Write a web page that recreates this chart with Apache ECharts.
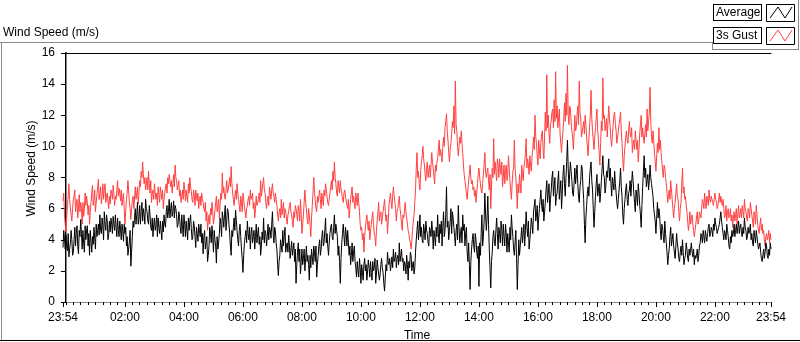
<!DOCTYPE html>
<html lang="en">

<head>
    <meta charset="UTF-8">
    <title>Wind Speed (m/s)</title>
    <script src="https://cdn.jsdelivr.net/npm/echarts@6/dist/echarts.min.js"></script>
    <style>
        html, body {
            margin: 0;
            padding: 0;
            background: #fff;
        }

        #main {
            width: 800px;
            height: 342px;
        }
    </style>
</head>

<body>
    <div id="main"></div>
    <script>
        // One reading every 1.5 minutes, starting 23:54 the day before
        const startMinute = -6;
        const stepMinutes = 1.5;

        const averageSpeed = [
            3.5, 4.6, 4.1, 3.4, 4.3, 3.6, 3.3, 4.4, 2.9, 3.4, 3.8, 4.6, 4.0, 3.0, 3.2, 4.0, 4.8, 3.6, 4.4, 4.9, 3.6, 3.1, 4.6, 4.2, 5.3, 4.4, 3.4, 4.6, 3.8, 3.2, 4.9, 4.0,
            4.6, 4.9, 3.6, 4.4, 3.0, 4.6, 3.9, 3.2, 4.2, 3.7, 4.8, 4.1, 3.4, 5.0, 4.2, 4.6, 5.0, 4.3, 5.6, 4.6, 4.4, 5.4, 4.9, 4.0, 5.8, 5.0, 4.6, 5.6, 5.2, 4.0, 4.4, 5.2,
            4.5, 5.4, 5.0, 4.4, 5.5, 5.0, 4.6, 5.6, 4.8, 4.2, 5.4, 4.6, 4.2, 5.2, 4.7, 4.0, 5.0, 4.6, 3.9, 5.0, 4.4, 4.8, 3.6, 4.2, 3.0, 3.4, 3.9, 4.6, 2.3, 3.2, 4.2, 5.2,
            4.8, 5.4, 6.0, 5.0, 5.6, 6.4, 5.0, 5.4, 6.2, 5.0, 5.8, 6.4, 5.2, 6.0, 5.6, 5.0, 6.6, 6.0, 5.8, 5.2, 5.0, 6.2, 5.6, 4.8, 4.6, 5.4, 4.2, 5.0, 5.4, 4.6, 4.9, 5.6,
            4.2, 5.4, 4.8, 4.4, 5.2, 4.6, 4.0, 5.2, 4.5, 5.6, 5.0, 4.8, 5.8, 6.2, 5.4, 5.8, 6.6, 5.4, 6.0, 6.4, 5.5, 5.8, 6.5, 5.4, 6.2, 6.0, 5.6, 4.8, 5.0, 5.8, 5.5, 4.8,
            4.4, 5.6, 4.9, 4.2, 5.6, 5.0, 4.2, 5.2, 4.6, 4.0, 5.4, 4.6, 5.2, 5.6, 4.7, 4.0, 4.2, 5.2, 4.9, 4.2, 3.5, 4.8, 4.4, 3.9, 5.0, 4.6, 4.2, 5.0, 3.8, 4.4, 3.1, 4.2,
            4.6, 3.4, 3.8, 4.2, 2.6, 3.0, 3.6, 4.8, 4.4, 3.8, 4.9, 4.2, 3.2, 4.6, 4.0, 3.6, 2.5, 4.2, 3.4, 3.8, 4.4, 5.4, 5.0, 4.2, 5.8, 5.4, 4.8, 5.6, 6.2, 4.6, 5.2, 6.0,
            5.8, 5.0, 4.4, 3.6, 3.0, 4.6, 4.2, 4.8, 5.4, 4.6, 5.9, 5.2, 4.6, 4.0, 3.6, 4.6, 5.0, 4.2, 3.4, 2.8, 1.9, 3.0, 3.8, 4.2, 4.6, 3.8, 5.2, 4.4, 4.0, 4.8, 3.4, 4.4,
            4.8, 3.8, 4.2, 4.6, 3.4, 4.2, 5.0, 3.8, 4.4, 4.8, 3.7, 4.2, 3.0, 3.6, 4.5, 4.0, 5.4, 3.8, 4.6, 4.4, 3.6, 4.2, 5.0, 4.0, 4.8, 4.6, 4.1, 5.0, 5.8, 4.4, 3.8, 4.8,
            4.6, 3.8, 3.4, 2.4, 1.7, 2.6, 3.0, 4.0, 3.6, 3.2, 4.6, 3.6, 4.2, 4.8, 3.2, 3.6, 3.8, 3.2, 4.3, 3.6, 2.8, 3.4, 3.9, 3.0, 3.4, 3.8, 2.6, 3.4, 1.2, 2.4, 3.2, 3.8,
            2.6, 3.4, 1.8, 2.6, 3.4, 2.4, 2.8, 3.4, 2.0, 2.8, 3.6, 2.6, 3.0, 2.4, 1.4, 3.0, 2.2, 3.4, 2.9, 2.4, 3.6, 3.2, 2.6, 3.6, 1.6, 2.4, 3.0, 3.6, 4.0, 3.0, 3.4, 4.2,
            4.6, 3.6, 3.8, 4.6, 5.4, 3.8, 4.4, 3.6, 3.0, 3.8, 4.4, 4.8, 5.0, 4.2, 4.0, 4.8, 5.6, 4.4, 5.0, 4.6, 4.2, 3.0, 3.6, 2.6, 1.2, 2.8, 3.8, 4.4, 5.0, 4.2, 3.6, 4.8,
            4.4, 3.6, 4.6, 3.8, 3.0, 3.6, 2.4, 3.0, 3.8, 2.6, 3.2, 3.6, 2.6, 2.2, 1.6, 2.6, 2.0, 1.6, 2.8, 2.2, 1.2, 2.4, 1.9, 1.4, 2.4, 2.8, 2.0, 2.4, 1.4, 2.0, 2.7, 2.2,
            1.6, 2.6, 1.9, 1.4, 2.6, 2.0, 2.2, 2.8, 1.2, 1.8, 2.7, 2.2, 2.2, 1.4, 1.8, 2.4, 2.8, 2.2, 1.9, 1.2, 0.7, 1.6, 2.4, 2.0, 3.2, 2.6, 2.4, 2.8, 2.0, 2.4, 2.9, 2.2,
            3.4, 2.6, 2.8, 3.2, 2.2, 2.8, 3.0, 2.4, 3.8, 2.6, 3.0, 3.4, 2.6, 2.8, 2.0, 2.6, 2.4, 1.8, 3.0, 2.4, 1.4, 2.6, 2.2, 3.2, 3.0, 2.0, 2.4, 2.6, 1.8, 2.2, 3.2, 4.0,
            4.6, 5.2, 4.0, 4.6, 5.6, 4.2, 4.8, 4.0, 3.8, 5.0, 4.6, 4.0, 5.2, 4.6, 4.4, 3.8, 3.6, 4.8, 4.6, 4.2, 5.2, 4.6, 3.4, 4.6, 4.2, 3.6, 4.8, 4.2, 5.6, 4.4, 3.8, 5.0,
            4.4, 5.2, 3.6, 4.8, 5.8, 4.2, 4.6, 5.6, 7.4, 4.8, 5.2, 4.0, 4.6, 5.2, 6.0, 4.4, 5.8, 5.4, 4.8, 4.2, 3.6, 4.6, 5.0, 4.0, 6.2, 4.8, 3.8, 4.4, 4.8, 3.8, 5.6, 4.6,
            5.0, 3.6, 4.4, 4.8, 3.2, 2.6, 3.8, 2.4, 0.8, 2.6, 3.4, 4.0, 4.4, 3.6, 3.2, 4.4, 4.0, 3.2, 2.8, 3.6, 1.0, 3.8, 3.0, 4.4, 5.6, 3.6, 4.2, 5.2, 7.0, 5.6, 4.6, 5.4,
            6.8, 5.0, 3.4, 2.2, 0.9, 2.6, 3.2, 4.2, 4.6, 3.8, 3.6, 4.6, 5.4, 4.4, 3.4, 4.8, 4.4, 3.8, 5.2, 4.6, 3.6, 5.0, 4.2, 3.6, 5.0, 4.4, 3.2, 4.4, 3.8, 3.2, 4.8, 4.0,
            5.6, 4.8, 4.2, 3.4, 3.0, 3.8, 4.6, 2.8, 0.8, 2.4, 4.0, 3.0, 3.6, 4.2, 4.8, 3.8, 4.4, 5.0, 3.6, 4.6, 5.8, 4.8, 4.2, 5.2, 3.4, 4.0, 4.6, 5.4, 5.0, 4.4, 5.8, 6.2,
            6.6, 5.2, 5.6, 6.2, 4.6, 5.4, 6.0, 6.6, 7.2, 6.2, 5.8, 6.6, 5.2, 5.8, 6.4, 7.2, 7.8, 6.4, 7.0, 7.6, 5.8, 6.6, 7.2, 8.0, 8.4, 6.8, 7.4, 8.0, 6.2, 6.8, 7.0, 7.8,
            8.4, 6.6, 7.2, 7.8, 6.0, 7.0, 8.2, 8.8, 7.6, 6.8, 8.0, 9.0, 10.4, 8.6, 7.4, 8.2, 9.0, 8.4, 7.8, 7.0, 6.8, 7.6, 8.6, 7.6, 8.2, 8.8, 7.6, 6.8, 6.4, 7.4, 7.8, 8.8,
            8.6, 7.4, 6.6, 5.0, 3.8, 5.4, 6.2, 7.0, 7.4, 6.8, 8.0, 8.6, 9.0, 7.8, 7.2, 6.0, 4.8, 5.8, 6.8, 7.6, 8.2, 6.8, 7.2, 7.6, 6.4, 7.0, 7.8, 8.6, 9.4, 8.2, 8.0, 7.0,
            7.4, 8.4, 8.0, 8.6, 9.2, 7.8, 8.6, 7.6, 6.8, 8.0, 7.6, 7.2, 8.4, 7.6, 7.0, 6.4, 6.0, 6.6, 7.2, 7.8, 8.6, 7.4, 6.8, 5.6, 5.0, 6.0, 6.6, 7.2, 7.6, 6.6, 6.2, 7.0,
            7.2, 7.8, 6.8, 7.6, 8.4, 7.8, 7.0, 6.4, 5.8, 7.2, 6.8, 6.2, 7.6, 7.0, 6.2, 5.6, 4.8, 6.2, 7.4, 8.4, 9.4, 8.0, 8.6, 7.4, 7.8, 8.2, 7.2, 7.8, 8.8, 8.0, 7.6, 7.2,
            6.8, 6.0, 5.6, 5.2, 4.4, 5.4, 6.4, 5.4, 6.0, 5.6, 4.6, 4.0, 5.0, 4.8, 4.2, 3.8, 5.2, 4.4, 3.8, 3.2, 2.4, 3.0, 3.4, 4.2, 4.8, 3.6, 4.0, 4.4, 3.6, 3.2, 2.8, 3.6,
            4.4, 3.8, 3.4, 2.8, 2.6, 3.2, 3.6, 3.0, 4.0, 3.2, 2.4, 2.8, 3.0, 3.8, 3.4, 2.8, 2.6, 3.4, 3.0, 3.4, 3.8, 3.2, 2.9, 3.4, 2.4, 3.0, 2.8, 3.0, 3.4, 2.6, 3.0, 3.6,
            3.8, 4.4, 4.2, 3.8, 4.6, 4.2, 3.8, 4.6, 4.2, 3.9, 4.4, 4.8, 5.0, 4.2, 4.4, 4.8, 4.6, 4.2, 5.0, 4.6, 5.4, 5.0, 4.8, 4.4, 4.3, 4.8, 5.0, 5.4, 5.8, 5.2, 4.8, 4.4,
            4.0, 4.6, 4.4, 4.0, 5.0, 4.6, 4.2, 3.6, 3.4, 4.2, 3.8, 4.6, 4.2, 4.4, 5.0, 4.2, 4.6, 5.0, 4.4, 4.8, 5.2, 4.4, 4.8, 5.0, 4.4, 4.2, 4.8, 4.4, 5.4, 4.8, 4.6, 4.0,
            4.2, 4.8, 4.4, 4.6, 5.0, 4.0, 4.4, 3.8, 3.6, 4.6, 4.2, 3.8, 4.6, 4.2, 3.8, 3.4, 3.4, 3.8, 3.2, 2.8, 2.6, 3.0, 3.4, 2.8, 3.2, 3.8, 3.6, 3.0, 2.8, 3.4, 3.0, 3.8,
            3.4
        ];

        const gustSpeed = [
            6.5, 7.0, 5.6, 5.0, 4.5, 5.4, 6.2, 6.8, 7.6, 6.6, 6.0, 5.6, 5.2, 6.0, 6.6, 6.8, 7.2, 5.8, 6.2, 6.6, 5.4, 6.0, 6.9, 5.8, 6.4, 6.0, 5.0, 6.4, 5.5, 6.0, 7.0, 6.2,
            6.8, 6.4, 5.6, 6.2, 5.0, 5.8, 6.4, 7.0, 7.5, 6.2, 6.6, 7.2, 5.8, 6.4, 6.9, 7.4, 7.9, 6.6, 7.0, 7.4, 6.3, 6.8, 7.6, 6.6, 7.2, 7.6, 6.4, 6.8, 7.0, 6.4, 6.0, 6.8,
            6.3, 7.2, 7.0, 6.6, 7.5, 7.0, 6.2, 6.8, 6.6, 7.2, 7.8, 6.8, 7.3, 7.0, 6.5, 7.2, 6.2, 6.6, 7.0, 6.0, 5.0, 5.8, 6.6, 7.0, 7.8, 7.2, 6.4, 6.0, 5.3, 6.0, 6.5, 6.8,
            6.0, 6.6, 7.4, 6.6, 7.0, 7.4, 6.3, 7.0, 7.8, 7.4, 8.4, 8.0, 9.0, 8.2, 7.6, 8.0, 7.2, 7.6, 8.0, 7.2, 8.4, 7.6, 7.0, 7.8, 6.4, 7.0, 7.2, 6.6, 7.6, 7.0, 6.6, 7.0,
            6.2, 7.4, 6.9, 6.4, 7.4, 7.0, 6.6, 7.2, 6.0, 6.6, 7.0, 7.4, 7.6, 7.0, 8.0, 7.6, 8.2, 7.8, 7.4, 7.8, 7.0, 7.6, 8.2, 7.4, 8.8, 8.0, 7.8, 7.2, 7.3, 7.8, 6.8, 7.2,
            6.4, 6.8, 7.2, 6.6, 7.7, 7.2, 6.5, 7.2, 6.8, 6.4, 7.6, 7.0, 8.0, 7.4, 7.1, 6.6, 6.4, 7.2, 6.9, 6.2, 7.2, 6.8, 6.5, 7.0, 6.0, 6.6, 6.8, 6.2, 7.0, 6.6, 6.4, 6.0,
            5.8, 6.4, 5.2, 5.8, 4.6, 5.2, 5.6, 5.0, 6.0, 5.6, 6.4, 5.8, 5.0, 5.4, 5.9, 6.4, 6.8, 5.8, 6.2, 6.6, 5.4, 6.2, 7.0, 6.6, 8.3, 7.0, 7.4, 6.8, 6.6, 7.2, 7.8, 7.0,
            7.2, 7.6, 8.0, 7.4, 8.7, 7.6, 7.0, 6.6, 6.2, 6.8, 7.2, 6.6, 7.6, 7.0, 6.6, 6.2, 5.8, 6.8, 6.4, 5.8, 7.0, 6.6, 6.1, 5.8, 5.4, 6.0, 6.2, 6.6, 6.8, 6.2, 7.2, 6.6,
            6.6, 7.0, 6.0, 6.4, 5.4, 6.0, 6.8, 6.2, 6.2, 6.6, 7.0, 6.4, 7.8, 6.8, 7.2, 7.6, 8.0, 7.2, 7.0, 6.4, 6.0, 6.6, 6.8, 6.2, 7.4, 7.0, 6.6, 7.2, 7.6, 7.0, 6.8, 6.4,
            7.0, 6.6, 6.2, 5.6, 5.2, 5.8, 6.0, 5.4, 6.6, 5.6, 6.0, 6.4, 5.4, 6.0, 5.8, 5.4, 5.0, 5.6, 5.8, 6.2, 6.4, 5.8, 5.6, 5.2, 4.8, 5.8, 5.4, 6.2, 6.0, 5.6, 5.2, 6.2,
            5.8, 5.2, 6.6, 5.6, 4.4, 5.0, 5.6, 6.4, 7.2, 6.4, 6.0, 5.4, 5.0, 6.0, 5.6, 5.0, 4.2, 5.4, 6.2, 7.0, 8.0, 7.0, 6.6, 6.0, 5.8, 6.8, 6.4, 6.8, 7.2, 6.6, 6.0, 7.0,
            6.6, 6.2, 7.2, 6.8, 7.6, 7.2, 6.8, 6.4, 6.2, 6.6, 7.0, 7.4, 7.8, 7.2, 8.4, 7.8, 9.0, 8.0, 7.6, 7.0, 6.8, 7.8, 7.4, 7.0, 7.8, 7.2, 7.0, 6.6, 6.4, 7.0, 7.2, 6.8,
            6.8, 6.2, 6.0, 6.6, 5.4, 6.0, 6.6, 7.0, 7.4, 6.4, 6.8, 6.4, 6.0, 7.0, 6.6, 6.2, 7.0, 6.4, 5.8, 5.0, 4.6, 4.8, 4.0, 4.4, 3.2, 4.2, 4.8, 5.2, 5.6, 5.0, 4.6, 5.2,
            4.0, 4.6, 5.0, 5.4, 5.8, 5.0, 4.4, 4.2, 3.6, 4.6, 5.2, 5.8, 6.4, 5.2, 5.6, 5.8, 5.0, 5.4, 5.8, 6.2, 6.6, 5.8, 5.2, 5.6, 4.4, 5.2, 6.2, 6.6, 7.0, 6.4, 6.0, 6.8,
            7.4, 6.8, 6.4, 6.0, 5.2, 5.8, 6.0, 6.4, 6.8, 6.0, 5.6, 5.0, 4.6, 5.6, 5.4, 5.8, 6.4, 5.8, 5.4, 5.0, 4.6, 4.4, 4.0, 3.8, 3.4, 4.0, 4.6, 5.2, 5.6, 6.4, 7.2, 8.6,
            9.6, 8.0, 8.4, 7.6, 7.2, 8.4, 9.0, 9.4, 10.0, 9.2, 8.8, 8.2, 7.8, 8.6, 9.0, 8.0, 8.4, 8.8, 8.0, 8.8, 9.6, 9.0, 8.6, 8.0, 7.6, 8.8, 8.4, 9.0, 9.2, 9.8, 10.4, 9.4,
            9.8, 9.4, 9.0, 10.0, 10.6, 10.0, 11.2, 11.6, 12.1, 11.0, 10.4, 9.6, 9.0, 9.8, 10.2, 10.8, 11.6, 11.2, 12.6, 10.8, 14.2, 11.4, 11.0, 10.0, 9.4, 10.0, 10.6, 10.2, 11.0, 10.2, 9.6, 8.8,
            8.2, 7.8, 7.4, 7.0, 6.6, 7.2, 7.8, 8.2, 8.8, 8.0, 7.6, 7.8, 7.2, 7.4, 6.8, 7.2, 6.4, 7.0, 7.6, 8.2, 8.6, 8.0, 7.6, 7.2, 7.0, 7.6, 8.2, 8.8, 9.6, 8.4, 8.0, 8.4,
            8.6, 7.8, 7.2, 8.2, 6.0, 7.4, 8.6, 8.0, 10.5, 8.2, 9.0, 8.4, 7.8, 9.2, 8.8, 8.0, 9.2, 8.6, 8.2, 9.0, 7.4, 8.0, 8.8, 7.6, 8.4, 8.8, 7.8, 8.2, 9.4, 8.6, 7.8, 7.2,
            6.6, 7.6, 8.4, 8.6, 10.4, 8.6, 8.0, 7.2, 6.0, 7.6, 7.0, 8.2, 7.6, 7.0, 8.8, 8.2, 7.8, 8.6, 9.0, 9.6, 10.5, 8.6, 9.2, 8.8, 8.2, 9.4, 8.8, 8.4, 9.4, 9.8, 10.6, 9.8,
            12.0, 10.6, 10.2, 9.4, 8.8, 10.4, 9.8, 9.2, 10.2, 10.8, 11.0, 9.8, 9.2, 10.6, 12.2, 11.0, 14.6, 11.2, 12.0, 10.8, 10.2, 11.4, 11.6, 12.2, 12.4, 11.2, 13.0, 11.6, 14.8, 11.8, 12.6, 11.2,
            11.8, 12.4, 10.8, 10.2, 9.6, 10.4, 11.0, 11.8, 12.8, 11.6, 13.4, 12.0, 15.2, 12.0, 11.4, 12.6, 12.4, 11.6, 11.0, 10.6, 9.8, 10.8, 12.0, 11.0, 11.2, 12.0, 12.6, 11.4, 14.2, 12.2, 11.8, 10.6,
            10.6, 11.2, 11.6, 10.8, 12.0, 11.4, 10.6, 10.0, 9.4, 10.4, 11.2, 12.0, 13.6, 11.8, 11.0, 10.4, 9.8, 10.6, 11.2, 11.8, 12.4, 11.0, 10.4, 9.6, 8.8, 10.2, 11.6, 11.0, 14.4, 11.8, 12.0, 11.0,
            11.4, 11.8, 10.6, 11.6, 12.6, 11.8, 11.2, 10.4, 10.0, 10.8, 11.4, 12.0, 12.2, 11.4, 11.0, 10.2, 10.6, 11.0, 11.4, 11.8, 12.2, 11.0, 10.2, 9.2, 8.4, 9.4, 10.0, 10.6, 11.0, 10.4, 10.2, 11.0,
            11.6, 10.8, 10.6, 11.2, 9.6, 10.2, 10.4, 9.8, 11.0, 10.4, 9.8, 10.4, 9.0, 9.8, 10.8, 11.4, 12.0, 10.6, 11.2, 10.6, 10.2, 10.8, 11.4, 10.6, 12.4, 11.0, 11.6, 12.2, 13.8, 11.6, 10.6, 10.2,
            11.0, 10.4, 9.6, 9.0, 8.4, 9.4, 10.2, 9.6, 11.2, 9.8, 10.4, 9.6, 9.0, 8.4, 8.0, 8.8, 8.6, 8.0, 7.6, 7.0, 6.4, 6.8, 7.2, 6.6, 7.8, 7.2, 6.6, 6.0, 5.4, 6.0, 6.4, 7.0,
            7.6, 6.8, 6.6, 5.8, 5.2, 6.0, 6.4, 7.6, 8.6, 7.0, 7.4, 6.6, 6.8, 6.2, 5.8, 5.2, 4.6, 5.0, 5.8, 5.0, 5.4, 5.6, 5.0, 4.6, 4.2, 4.6, 5.0, 5.4, 5.8, 5.0, 5.2, 5.8,
            5.6, 5.4, 6.0, 6.6, 6.4, 6.0, 7.0, 6.4, 6.0, 6.8, 6.6, 6.2, 7.2, 6.6, 6.4, 6.8, 6.8, 6.4, 6.2, 6.6, 7.0, 6.6, 6.4, 6.0, 6.2, 6.6, 7.0, 6.4, 6.8, 6.4, 6.2, 6.6,
            6.0, 5.4, 5.6, 6.2, 5.2, 5.8, 6.0, 5.4, 5.6, 6.0, 5.2, 5.6, 4.8, 5.4, 5.8, 5.2, 5.6, 6.0, 5.0, 5.6, 6.2, 5.4, 5.6, 6.0, 5.4, 6.2, 5.8, 5.4, 6.6, 6.0, 5.8, 5.4,
            5.2, 6.0, 5.8, 5.4, 6.4, 6.0, 5.6, 5.2, 4.8, 5.8, 5.6, 5.0, 6.2, 5.6, 5.0, 4.6, 4.4, 5.0, 5.4, 4.6, 5.0, 4.4, 4.6, 4.0, 3.6, 4.2, 4.4, 4.0, 4.2, 4.6, 3.8, 4.4,
            4.0
        ];

        // Labelled time ticks (minutes from midnight)
        const majorTicks = [-6, 120, 240, 360, 480, 600, 720, 840, 960, 1080, 1200, 1320, 1434];
        const minorTicks = [];
        for (let m = 0; m < 1434; m += 15) minorTicks.push(m);

        const fontFamily = '"Liberation Sans", Arial, sans-serif';

        function timeLabel(v) {
            const m = ((Math.round(v) % 1440) + 1440) % 1440;
            const hh = String(Math.floor(m / 60)).padStart(2, '0');
            const mm = String(m % 60).padStart(2, '0');
            return hh + ':' + mm;
        }

        function toPoints(values) {
            return values.map((v, i) => [startMinute + i * stepMinutes, v]);
        }

        const chart = echarts.init(document.getElementById('main'), null, { renderer: 'canvas' });

        const option = {
            animation: false,
            textStyle: { fontFamily: fontFamily },
            title: {
                text: 'Wind Speed (m/s)',
                left: 3,
                top: 27,
                padding: 0,
                textStyle: { fontSize: 12, fontWeight: 'normal', color: '#000', fontFamily: fontFamily }
            },
            legend: {
                data: ['Average', '3s Gust'],
                orient: 'vertical',
                right: 38,
                top: 4,
                padding: 0,
                itemGap: 6,
                itemWidth: 0,
                itemHeight: 0,
                icon: 'none',
                selectedMode: false,
                textStyle: {
                    fontSize: 12,
                    color: '#000',
                    fontFamily: fontFamily,
                    borderColor: '#000',
                    borderWidth: 1,
                    backgroundColor: '#fff',
                    padding: [2, 2, 1, 2],
                    width: 43
                }
            },
            grid: {
                left: 63,
                right: 29,
                top: 53,
                bottom: 40,
                outerBoundsMode: 'none',
                containLabel: false
            },
            xAxis: [
                {
                    type: 'value',
                    min: -6,
                    max: 1434,
                    position: 'bottom',
                    name: 'Time',
                    nameLocation: 'middle',
                    nameGap: 28,
                    nameTextStyle: { fontSize: 12, color: '#000' },
                    axisLine: { lineStyle: { color: '#8a8a8a', width: 1 } },
                    axisTick: { customValues: majorTicks, length: 5, lineStyle: { color: '#000' } },
                    axisLabel: {
                        customValues: majorTicks,
                        formatter: timeLabel,
                        margin: 10,
                        fontSize: 12,
                        color: '#000'
                    },
                    splitLine: { show: false }
                },
                {
                    type: 'value',
                    min: -6,
                    max: 1434,
                    position: 'bottom',
                    axisLine: { show: false },
                    axisTick: { customValues: minorTicks, length: 3, lineStyle: { color: '#000' } },
                    axisLabel: { show: false },
                    splitLine: { show: false }
                },
                {
                    type: 'value',
                    min: -6,
                    max: 1434,
                    position: 'top',
                    axisLine: { lineStyle: { color: '#000', width: 1 } },
                    axisTick: { show: false },
                    axisLabel: { show: false },
                    splitLine: { show: false }
                }
            ],
            yAxis: [
                {
                    type: 'value',
                    min: 0,
                    max: 16,
                    interval: 2,
                    position: 'left',
                    name: 'Wind Speed (m/s)',
                    nameLocation: 'middle',
                    nameGap: 25,
                    nameMoveOverlap: false,
                    nameTextStyle: { fontSize: 12, color: '#000', padding: [0, 0, 0, 18] },
                    axisLine: { lineStyle: { color: '#000', width: 2 } },
                    axisTick: { length: 5, lineStyle: { color: '#000' } },
                    axisLabel: { margin: 8, fontSize: 12, color: '#000' },
                    splitLine: { show: false }
                },
                {
                    type: 'value',
                    min: 0,
                    max: 16,
                    position: 'right',
                    axisLine: { show: true, lineStyle: { color: '#8a8a8a', width: 1 } },
                    axisTick: { show: false },
                    axisLabel: { show: false },
                    splitLine: { show: false }
                }
            ],
            series: [
                {
                    name: '3s Gust',
                    type: 'line',
                    data: toPoints(gustSpeed),
                    showSymbol: false,
                    sampling: 'none',
                    itemStyle: { color: '#ff4040' },
                    lineStyle: { color: '#ff4040', width: 1 },
                    z: 2
                },
                {
                    name: 'Average',
                    type: 'line',
                    data: toPoints(averageSpeed),
                    showSymbol: false,
                    sampling: 'none',
                    itemStyle: { color: '#000' },
                    lineStyle: { color: '#000', width: 1 },
                    z: 3
                }
            ],
            graphic: [
                // panel frame
                { type: 'line', shape: { x1: 0, y1: 42.5, x2: 712, y2: 42.5 }, style: { stroke: '#8a8a8a', lineWidth: 1 } },
                { type: 'line', shape: { x1: 1.5, y1: 42, x2: 1.5, y2: 340 }, style: { stroke: '#8a8a8a', lineWidth: 1 } },
                { type: 'line', shape: { x1: 0, y1: 340.5, x2: 800, y2: 340.5 }, style: { stroke: '#000', lineWidth: 1 } },
                { type: 'line', shape: { x1: 712.5, y1: 42, x2: 712.5, y2: 49 }, style: { stroke: '#8a8a8a', lineWidth: 1 } },
                { type: 'line', shape: { x1: 712, y1: 49.5, x2: 799, y2: 49.5 }, style: { stroke: '#8a8a8a', lineWidth: 1 } },
                { type: 'line', shape: { x1: 798.5, y1: 0, x2: 798.5, y2: 50 }, style: { stroke: '#8a8a8a', lineWidth: 1 } },
                // legend plot swatches
                { type: 'rect', shape: { x: 766.5, y: 4.5, width: 28, height: 17 }, style: { fill: '#fff', stroke: '#000', lineWidth: 1 } },
                { type: 'polyline', shape: { points: [[770, 18], [778, 7], [785, 18], [792, 7]] }, style: { stroke: '#000', lineWidth: 1, fill: null } },
                { type: 'rect', shape: { x: 766.5, y: 27.5, width: 28, height: 17 }, style: { fill: '#fff', stroke: '#000', lineWidth: 1 } },
                { type: 'polyline', shape: { points: [[770, 41], [778, 30], [785, 41], [792, 30]] }, style: { stroke: '#ff4040', lineWidth: 1, fill: null } }
            ]
        };

        chart.setOption(option);

        window.addEventListener('resize', function () {
            chart.resize();
        });
    </script>
</body>

</html>
